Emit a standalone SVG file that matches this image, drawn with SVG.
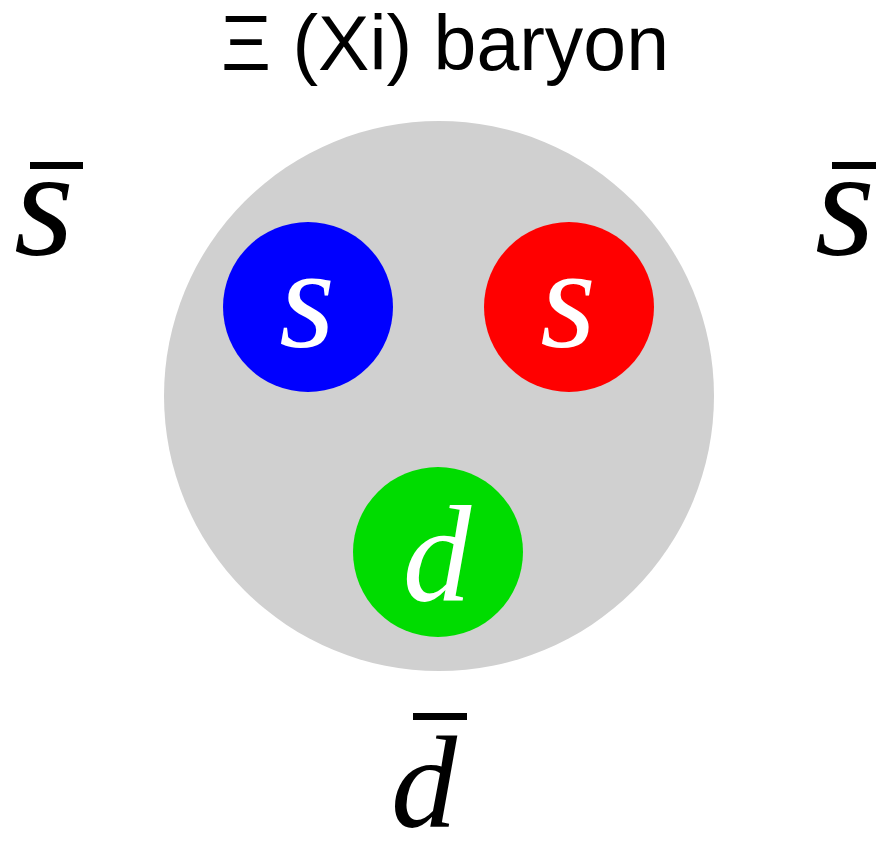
<svg xmlns="http://www.w3.org/2000/svg" width="876" height="842" viewBox="0 0 876 842">
<style>
.title{font-family:"Liberation Sans",Arial,sans-serif;font-size:77px;fill:#000}
.q{font-family:"Liberation Serif","Times New Roman",serif;font-style:italic;text-anchor:middle}
.w{fill:#fff}
.k{fill:#000}
.bar{fill:#000}
</style>
<rect width="876" height="842" fill="#fff"/>
<g id="title"><text class="title" x="445" y="70" text-anchor="middle">Ξ (Xi) baryon</text></g>
<g id="baryon"><circle cx="439" cy="396" r="275" fill="#d0d0d0"/></g>
<g id="quark-s-blue"><circle cx="308" cy="307" r="85" fill="#0000ff"/><text class="q w" x="307" y="347" font-size="143">s</text></g>
<g id="quark-s-red"><circle cx="569" cy="307" r="85" fill="#ff0000"/><text class="q w" x="568" y="347" font-size="143">s</text></g>
<g id="quark-d-green"><circle cx="438" cy="552" r="85" fill="#00dc00"/><text class="q w" x="437" y="601" font-size="137">d</text></g>
<g id="antiquark-s-left"><rect class="bar" x="30" y="162" width="53" height="7"/><text class="q k" x="44" y="254" font-size="154">s</text></g>
<g id="antiquark-s-right"><rect class="bar" x="832" y="162" width="44" height="7"/><text class="q k" x="845" y="254" font-size="154">s</text></g>
<g id="antiquark-d-bottom"><rect class="bar" x="413" y="713" width="54" height="7"/><text class="q k" x="424" y="827" font-size="132">d</text></g>
<g id="connectors"/>
</svg>
